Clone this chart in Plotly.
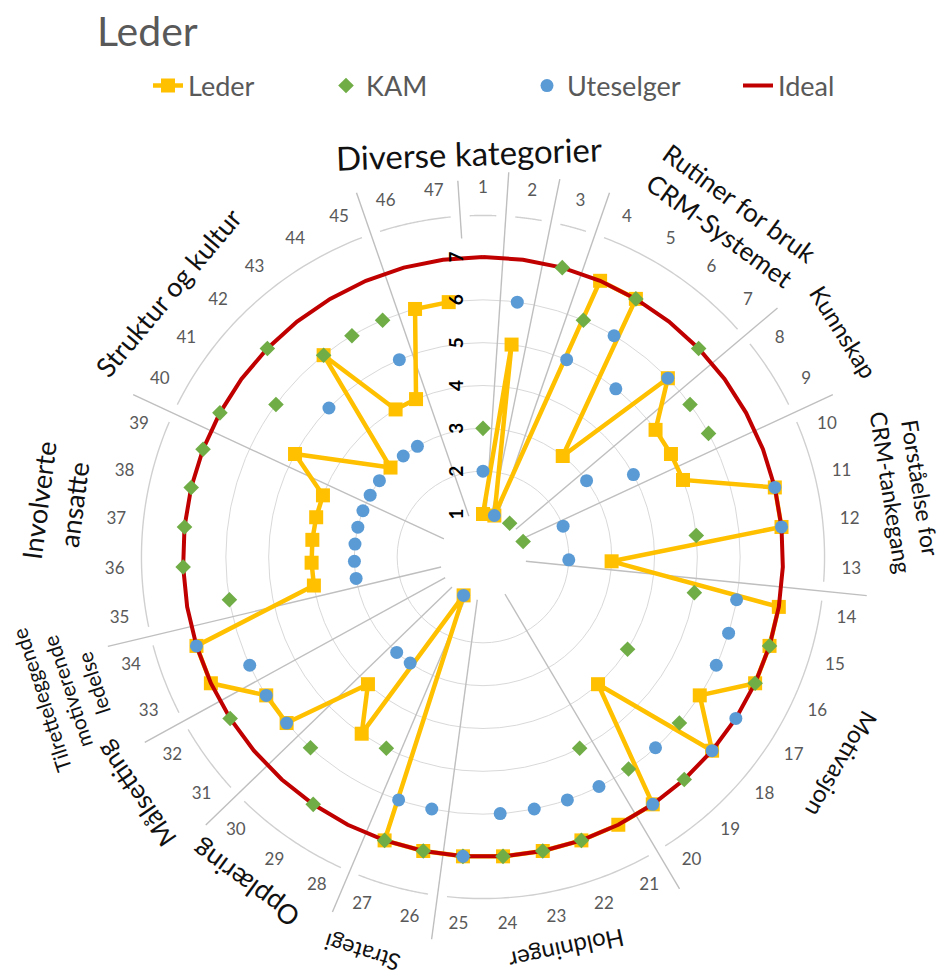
import numpy as np
import plotly.graph_objects as go

# ---------------- data ----------------
categories = [str(i) for i in range(1, 48)]
leder = [1, 5, 1, 7, 7, 3, 6, 5, 5, 5, 7, 7, 3, 7, 7, 7, 6, 7, 4, 7,
         7, 7, 7, 7, 7, 7, 7, 1, 5, 4, 6, 6, 7, 7, 4, 4, 4, 4, 4, 5,
         None, 3, 6, 4, 4, 6, 6]
kam = [3, None, 7, 6, 7, 1, 7, 6, 6, 1, None, 5, None, 5, 7, 7, 4, 6, 7, 6,
       5, 7, 7, 7, 7, 7, 7, 5, 7, 6, None, 7, None, None, 6, 7, 7, 7, 7, 7,
       6, 7, 6, 6, 6, None, None]
uteselger = [2, 6, 1, 5, 6, 5, 6, 3, 4, 2, 7, 7, 2, 6, 6, 6, 7, 7, 6, 7,
             6, 6, 6, 6, 7, 6, 6, 1, 3, 3, 6, 6, 6, 7, 3, 3, 3, 3, 3, 3,
             3, 5, 3, 3, 5, None, None]
ideal = [7] * 47
radial_ticks = [1, 2, 3, 4, 5, 6, 7]

# group label texts with (first category, last category)
groups = [
    ("Diverse kategorier", 46, 3),
    ("Rutiner for bruk<br>CRM-Systemet", 4, 7),
    ("Kunnskap", 8, 9),
    ("Forståelse for<br>CRM-tankegang", 10, 13),
    ("Motivasjon", 14, 20),
    ("Holdninger", 21, 25),
    ("Strategi", 26, 27),
    ("Opplæring", 28, 30),
    ("Målsetting", 31, 32),
    ("Tilretteleggende<br>motiverende<br>ledelse", 33, 34),
    ("Involverte<br>ansatte", 35, 39),
    ("Struktur og kultur", 40, 45),
]
# bracket arcs (first, last category)
arc_segments = [(46, 47), (1, 1), (2, 2), (3, 3), (4, 7), (8, 9), (10, 13),
                (14, 20), (21, 25), (26, 27), (28, 30), (31, 32), (33, 34),
                (35, 39), (40, 45)]

# ---------------- geometry / style ----------------
W, H = 948, 980
CX, CY = 483, 557          # polar centre in px
R_HOLE, R7 = 43, 300       # px radius of value 1 and 7
RMAX = 9.2
R_OUT = R_HOLE + (RMAX - 1) / 6 * (R7 - R_HOLE)
STEP = 360 / 47

def ang(k):
    return (k - 1) * STEP

theta = [ang(i + 1) for i in range(47)]

GRID = "#d9d9d9"
SEP = "#bfbfbf"
FONT = "Lato"

fig = go.Figure()

# separators (group boundaries)
for (a, b) in arc_segments:
    bt = ang(a) - STEP / 2
    r0 = 7.45 if a == 1 else 1
    r1 = 8.8 if a == 1 else 9.0
    fig.add_trace(go.Scatterpolar(r=[r0, r1], theta=[bt, bt], mode="lines",
                                  line=dict(color=SEP, width=1.4),
                                  showlegend=False, hoverinfo="skip"))
# bracket arcs
for (a, b) in arc_segments:
    t0 = ang(a) - STEP / 2 + 1.6
    t1 = ang(b) + STEP / 2 - 1.6
    if t1 < t0:
        t1 += 360
    tt = np.linspace(t0, t1, 40)
    fig.add_trace(go.Scatterpolar(r=[7.97] * len(tt), theta=tt, mode="lines",
                                  line=dict(color="#d0d0d0", width=1.4),
                                  showlegend=False, hoverinfo="skip"))
# category labels
fig.add_trace(go.Scatterpolar(r=[8.6] * 47, theta=theta, mode="text",
                              text=categories,
                              textfont=dict(family=FONT, size=17, color="#595959"),
                              showlegend=False, hoverinfo="skip"))

# series
fig.add_trace(go.Scatterpolar(r=leder, theta=theta, mode="lines+markers", name="Leder",
                              connectgaps=True,
                              line=dict(color="#FFC000", width=4.5),
                              marker=dict(symbol="square", size=14, color="#FFC000"),
                              legend="legend"))
fig.add_trace(go.Scatterpolar(r=ideal + [ideal[0]], theta=theta + [theta[0]], mode="lines",
                              name="Ideal", line=dict(color="#C00000", width=4),
                              legend="legend4"))
fig.add_trace(go.Scatterpolar(r=kam, theta=theta, mode="markers", name="KAM",
                              marker=dict(symbol="diamond", size=12, color="#70AD47"),
                              legend="legend2"))
fig.add_trace(go.Scatterpolar(r=uteselger, theta=theta, mode="markers", name="Uteselger",
                              marker=dict(symbol="circle", size=13, color="#5B9BD5"),
                              legend="legend3"))

# group labels as rotated annotations: (theta deg, radius px, font size)
label_pos = {
    "Diverse kategorier": (-2, 404, 33),
    "Rutiner for bruk<br>CRM-Systemet": (36, 420, 26),
    "Kunnskap": (58, 425, 24),
    "Forståelse for<br>CRM-tankegang": (81, 428, 23),
    "Motivasjon": (120, 414, 24),
    "Holdninger": (168, 402, 24),
    "Strategi": (197, 414, 23),
    "Opplæring": (216, 404, 27),
    "Målsetting": (235.6, 421, 26),
    "Tilretteleggende<br>motiverende<br>ledelse": (252, 437, 21),
    "Involverte<br>ansatte": (277.3, 430, 27),
    "Struktur og kultur": (310, 411, 27),
}
annotations = []
for name, a, b in groups:
    th, rp, fs = label_pos[name]
    px = CX + rp * np.sin(np.radians(th))
    py = CY - rp * np.cos(np.radians(th))
    rot = th if th <= 180 else th - 360
    annotations.append(dict(x=px / W, y=1 - py / H, xref="paper", yref="paper",
                            text=name, showarrow=False, textangle=rot,
                            xanchor="center", yanchor="middle",
                            font=dict(family=FONT, size=fs, color="#111111")))

legend_font = dict(family=FONT, size=27, color="#595959")
def leg(xpx):
    return dict(x=xpx / W, y=1 - 86 / H, xanchor="left", yanchor="middle",
                orientation="h", font=legend_font, bgcolor="rgba(0,0,0,0)")

fig.update_layout(
    width=W, height=H,
    margin=dict(l=0, r=0, t=0, b=0),
    paper_bgcolor="white",
    title=dict(text="Leder", x=97 / W, xanchor="left", y=1 - 32 / H, yanchor="middle",
               font=dict(family=FONT, size=41, color="#595959")),
    polar=dict(
        domain=dict(x=[(CX - R_OUT) / W, (CX + R_OUT) / W],
                    y=[1 - (CY + R_OUT) / H, 1 - (CY - R_OUT) / H]),
        hole=R_HOLE / R_OUT,
        bgcolor="white",
        radialaxis=dict(range=[1, RMAX], tickvals=radial_ticks,
                        ticktext=[str(v) for v in radial_ticks],
                        showline=False, gridcolor=GRID, gridwidth=1,
                        angle=90, side="counterclockwise",
                        ticks="outside", ticklen=12, tickcolor="rgba(0,0,0,0)",
                        tickfont=dict(family=FONT, size=19, color="black", weight="bold")),
        angularaxis=dict(type="linear", thetaunit="degrees", rotation=90,
                         direction="clockwise", showgrid=False, showline=False,
                         showticklabels=False, ticks=""),
    ),
    legend=leg(148),
    legend2=leg(326),
    legend3=leg(527),
    legend4=leg(738),
    annotations=annotations,
)

fig.write_html("out.html")
